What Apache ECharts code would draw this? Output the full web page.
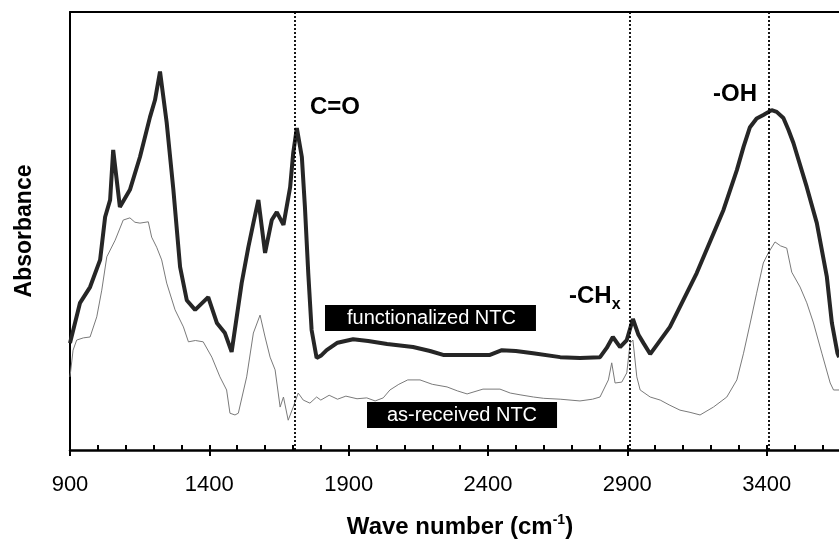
<!DOCTYPE html>
<html><head><meta charset="utf-8">
<script src="https://cdn.jsdelivr.net/npm/echarts@6/dist/echarts.min.js"></script>
<style>html,body{margin:0;padding:0;background:#fff}#c{width:839px;height:540px}</style>
</head><body><div id="c"></div>
<script>
// Functionalized NTC spectrum (thick)
const funcWave = [900,936,972,1008,1026,1044,1055,1079,1115,1151,1187,1205,1223,1247,1271,1295,1319,1349,1396,1427,1456,1480,1516,1540,1558,1576,1600,1624,1642,1666,1690,1701,1714,1732,1743,1755,1767,1785,1800,1821,1860,1916,1970,2038,2131,2192,2239,2330,2407,2450,2500,2562,2659,2730,2802,2826,2848,2874,2898,2920,2940,2958,2982,3053,3149,3245,3293,3317,3340,3364,3388,3418,3436,3460,3478,3496,3544,3580,3616,3634,3654,3660];
const funcAbs = [0.244,0.336,0.372,0.434,0.532,0.571,0.685,0.555,0.594,0.669,0.760,0.799,0.864,0.747,0.594,0.418,0.342,0.320,0.349,0.290,0.267,0.224,0.381,0.463,0.518,0.571,0.450,0.525,0.543,0.514,0.600,0.678,0.735,0.669,0.555,0.404,0.274,0.210,0.215,0.228,0.245,0.253,0.249,0.242,0.235,0.226,0.217,0.217,0.217,0.228,0.226,0.221,0.212,0.210,0.212,0.233,0.258,0.235,0.251,0.299,0.263,0.244,0.219,0.281,0.404,0.548,0.639,0.692,0.737,0.757,0.765,0.776,0.772,0.758,0.731,0.701,0.600,0.518,0.395,0.290,0.221,0.212];
// As-received NTC spectrum (thin)
const rawWave = [900,911,924,948,972,996,1014,1032,1062,1091,1115,1133,1151,1181,1193,1211,1229,1247,1277,1307,1325,1350,1378,1409,1438,1462,1474,1492,1504,1534,1558,1582,1600,1618,1636,1654,1666,1683,1701,1719,1737,1761,1785,1800,1830,1860,1890,1930,1965,1995,2024,2048,2080,2112,2156,2200,2253,2290,2325,2382,2443,2480,2515,2563,2600,2659,2730,2775,2802,2832,2844,2856,2880,2898,2910,2920,2934,2946,2982,3018,3050,3089,3125,3161,3209,3257,3293,3317,3341,3364,3388,3406,3430,3450,3472,3490,3520,3544,3568,3598,3628,3640,3660];
const rawAbs = [0.167,0.228,0.251,0.256,0.258,0.304,0.365,0.441,0.479,0.525,0.530,0.520,0.518,0.521,0.486,0.463,0.434,0.381,0.320,0.281,0.247,0.250,0.247,0.212,0.167,0.137,0.084,0.080,0.084,0.167,0.267,0.308,0.258,0.212,0.183,0.098,0.121,0.068,0.098,0.130,0.114,0.107,0.121,0.114,0.125,0.116,0.123,0.117,0.119,0.112,0.119,0.137,0.150,0.160,0.160,0.150,0.144,0.135,0.128,0.139,0.139,0.130,0.126,0.121,0.118,0.116,0.112,0.116,0.121,0.160,0.199,0.153,0.155,0.176,0.244,0.251,0.167,0.137,0.121,0.114,0.103,0.091,0.086,0.080,0.098,0.121,0.160,0.221,0.290,0.358,0.427,0.450,0.475,0.466,0.461,0.406,0.372,0.336,0.290,0.221,0.153,0.137,0.137];
// Axis ticks (wave number)
const xTicks = [900,1400,1900,2400,2900,3400,3900];
// Band marker positions
const bandLines = [1707, 2907, 3408];

const FONT = '"Liberation Sans", Arial, sans-serif';
const chart = echarts.init(document.getElementById('c'));
const pairs = (xs, ys) => xs.map((x, i) => [x, ys[i]]);
const xMin = xTicks[0], xMax = xTicks[xTicks.length - 1], xStep = xTicks[1] - xTicks[0];

chart.setOption({
  animation: false,
  grid: { left: 70, top: 12, bottom: 90, width: 836, outerBoundsMode: 'none', containLabel: false },
  xAxis: [
    {
      type: 'value', position: 'bottom', min: xMin, max: xMax, interval: xStep,
      axisLine: { show: true, lineStyle: { color: '#000', width: 2.5 } },
      axisTick: { show: true, inside: true, length: 5, lineStyle: { color: '#000', width: 2 } },
      minorTick: { show: true, splitNumber: 5, length: 5, lineStyle: { color: '#000', width: 2 } },
      splitLine: { show: false },
      axisLabel: { color: '#000', fontSize: 22, fontFamily: FONT, margin: 24, showMaxLabel: false,
        formatter: v => String(v) },
      name: 'Wave number (cm{sup|-1})',
      nameLocation: 'middle', nameGap: 63,
      nameTextStyle: {
        color: '#000', fontSize: 24, fontWeight: 'bold', fontFamily: FONT, padding: [0, 56, 0, 0],
        rich: { sup: { fontSize: 14, fontWeight: 'bold', fontFamily: FONT, color: '#000', padding: [0, 0, 14, 0] } }
      }
    },
    {
      type: 'value', position: 'bottom', min: xMin, max: xMax, interval: xStep,
      axisLine: { show: false },
      axisTick: { show: true, inside: false, length: 6, lineStyle: { color: '#000', width: 2 } },
      axisLabel: { show: false }, splitLine: { show: false }
    },
    {
      type: 'value', position: 'top', min: xMin, max: xMax,
      axisLine: { show: true, lineStyle: { color: '#000', width: 2 } },
      axisTick: { show: false }, axisLabel: { show: false }, splitLine: { show: false }
    }
  ],
  yAxis: {
    type: 'value', min: 0, max: 1,
    axisLine: { show: true, lineStyle: { color: '#000', width: 2 } },
    axisTick: { show: false }, axisLabel: { show: false }, splitLine: { show: false },
    name: 'Absorbance', nameLocation: 'middle', nameGap: 34, nameRotate: 90,
    nameTextStyle: { color: '#000', fontSize: 23, fontWeight: 'bold', fontFamily: FONT }
  },
  series: [
    {
      name: 'as-received NTC', type: 'line', xAxisIndex: 0,
      data: pairs(rawWave, rawAbs), showSymbol: false,
      lineStyle: { color: '#7a7a7a', width: 1 }, z: 2,
      markLine: {
        silent: true, symbol: 'none', label: { show: false },
        lineStyle: { color: '#000', type: [2, 2], width: 1.8 },
        data: bandLines.map(v => ({ xAxis: v }))
      }
    },
    {
      name: 'functionalized NTC', type: 'line', xAxisIndex: 0,
      data: pairs(funcWave, funcAbs), showSymbol: false,
      lineStyle: { color: '#262626', width: 4 }, z: 3
    }
  ],
  graphic: [
    { type: 'text', left: 310, top: 95, style: { text: 'C=O', font: 'bold 24px ' + FONT, fill: '#000' } },
    { type: 'text', left: 713, top: 82, style: { text: '-OH', font: 'bold 24px ' + FONT, fill: '#000' } },
    { type: 'text', left: 569, top: 284, style: {
        text: '-CH{s|x}', font: 'bold 24px ' + FONT, fill: '#000',
        rich: { s: { font: 'bold 16px ' + FONT, fill: '#000', padding: [17, 0, 0, 0] } } } },
    { type: 'text', left: 325, top: 305, style: {
        text: 'functionalized NTC', font: '20px ' + FONT, fill: '#fff', lineHeight: 20,
        backgroundColor: '#000', padding: [3, 20, 3, 22] } },
    { type: 'text', left: 367, top: 402, style: {
        text: 'as-received NTC', font: '20px ' + FONT, fill: '#fff', lineHeight: 20,
        backgroundColor: '#000', padding: [3, 20, 3, 20] } }
  ]
});
</script></body></html>
